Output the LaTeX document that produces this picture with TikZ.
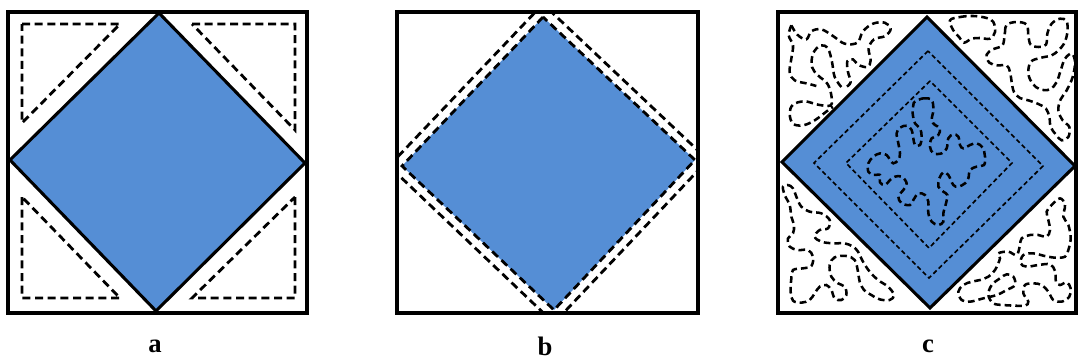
\documentclass[tikz,border=0pt]{standalone}
\usepackage{fontspec}
\setmainfont{Liberation Serif}
\usepackage{xcolor}
\usepackage{tikz}
\usetikzlibrary{calc}
\definecolor{colorTile}{RGB}{85,142,213}

\begin{document}
\begin{tikzpicture}[x=0.75pt,y=-0.75pt,
  frame/.style={line width=2.4pt,line join=miter},
  edge/.style={line width=2.3pt,line join=miter},
  cut/.style={line width=2.1pt,dash pattern=on 6pt off 3.5pt},
  fine/.style={line width=1.25pt,dash pattern=on 3.4pt off 2.2pt},
  blob/.style={line width=1.9pt,dash pattern=on 5pt off 3pt},
  lab/.style={font=\fontsize{20}{24}\selectfont\bfseries}]
  \useasboundingbox (0,0) rectangle (1078,362);

  % a: diamond with four triangle cuts
  \draw[edge,fill=colorTile] (159,13) -- (10,160) -- (156,311) -- (305,163) -- cycle;
  \draw[cut] (22,24) -- (120,24) -- (22,123) -- cycle;
  \draw[cut] (192,24) -- (295,24) -- (295,130) -- cycle;
  \draw[cut] (22,197) -- (22,298) -- (120,298) -- cycle;
  \draw[cut] (295,197) -- (295,298) -- (192,298) -- cycle;
  \draw[frame] (8,12) rectangle (307,313);
  \node[lab] (la) at (155,346) {a};

  % b: diamond with offset outline
  \fill[colorTile] (543,17) -- (402,166) -- (554,310) -- (695,160) -- cycle;
  \draw[cut] (543,17) -- (402,166) -- (554,310) -- (695,160) -- cycle;
  \begin{scope}
    \clip (398,13) rectangle (697,312);
    \draw[cut] (543,4) -- (389,166) -- (554,323) -- (708,160) -- cycle;
  \end{scope}
  \draw[frame] (397,12) rectangle (698,313);
  \node[lab] (lb) at (545,346) {b};

  % c: diamond with nested outlines and free-form cuts
  \draw[edge,fill=colorTile] (927,17) -- (782,162) -- (930,308) -- (1075,166) -- cycle;
  \draw[fine] (928,51) -- (814,163) -- (929,278) -- (1043,166) -- cycle;
  \draw[fine] (930,81) -- (846,163) -- (929,248) -- (1012,163) -- cycle;
  % top left corner
  \begin{scope}[shift={(778,12)},scale=1/3]
    \draw[blob] plot[smooth,tension=0.6] coordinates {(40,40) (58,68) (85,82) (100,58) (130,52) (165,72) (200,95) (238,92) (255,58) (285,35) (320,32) (338,50) (322,72) (288,82) (272,110) (278,145) (268,165) (240,158) (225,142) (208,148) (210,180) (218,210) (205,225)};
    \draw[blob] plot[smooth,tension=0.6] coordinates {(190,225) (170,195) (162,150) (150,110) (128,100) (105,125) (102,165) (120,190) (148,215) (160,250) (158,280) (120,278) (80,268) (45,278) (35,305) (45,335) (75,340) (110,325) (150,295) (165,285)};
    \draw[blob] plot[smooth,tension=0.6] coordinates {(40,40) (32,70) (45,100) (40,140) (35,180) (50,205) (90,215) (115,222)};
  \end{scope}
  % top right corner
  \begin{scope}[shift={(940,12)},scale=1/3]
    \draw[blob] plot[smooth cycle,tension=0.6] coordinates {(30,25) (60,15) (100,12) (140,18) (160,30) (165,60) (150,80) (120,78) (95,80) (72,92) (58,76) (40,55)};
    \draw[blob] plot[smooth cycle,tension=0.6] coordinates {(190,95) (195,60) (200,38) (230,30) (260,38) (265,70) (272,98) (295,105) (318,98) (322,65) (335,35) (360,20) (380,28) (382,62) (372,95) (355,115) (335,130) (300,138) (272,150) (265,185) (278,215) (300,232) (330,232) (350,210) (362,175) (375,140) (395,125) (405,150) (398,195) (380,235) (362,262) (355,295) (368,325) (388,345) (385,375) (365,385) (348,368) (332,345) (328,315) (318,290) (295,276) (265,265) (240,258) (222,240) (215,210) (210,180) (200,160) (172,160) (148,152) (140,128) (158,112) (180,105)};
  \end{scope}
  % bottom left corner
  \begin{scope}[shift={(778,180)},scale=1/3]
    \draw[blob] plot[smooth cycle,tension=0.6] coordinates {(15,20) (30,15) (45,25) (55,50) (70,80) (95,95) (130,100) (155,120) (150,145) (125,150) (110,170) (130,185) (165,190) (200,190) (225,200) (240,215) (255,245) (275,275) (300,300) (330,320) (348,345) (335,360) (305,358) (280,345) (258,330) (245,305) (240,275) (230,240) (205,228) (170,232) (155,255) (160,290) (180,310) (200,320) (205,345) (190,360) (170,355) (160,330) (145,315) (125,320) (110,340) (95,360) (70,368) (45,362) (38,335) (40,295) (45,270) (75,265) (100,258) (105,230) (90,210) (60,210) (35,200) (30,175) (45,160) (48,135) (40,110) (35,75) (20,45)};
  \end{scope}
  % bottom right corner
  \begin{scope}[shift={(950,185)},scale=1/3]
    \draw[blob] plot[smooth cycle,tension=0.6] coordinates {(330,40) (345,60) (340,95) (355,120) (362,160) (355,195) (345,215) (315,218) (280,212) (250,205) (220,210) (212,235) (230,245) (265,240) (300,238) (315,258) (318,290) (330,300) (350,292) (362,310) (358,335) (335,350) (310,345) (295,320) (275,300) (250,295) (225,300) (220,325) (235,350) (225,362) (195,362) (160,360) (130,355) (115,330) (125,300) (150,280) (170,268) (190,275) (195,300) (170,315) (140,330) (100,340) (60,350) (35,345) (25,320) (40,300) (65,290) (90,285) (115,275) (135,255) (150,220) (145,205) (175,200) (200,210) (210,180) (215,160) (240,150) (265,150) (290,155) (300,135) (295,105) (290,80) (305,60)};
  \end{scope}
  % centre
  \begin{scope}[shift={(860,95)},scale=1/3]
    \draw[blob] plot[smooth cycle,tension=0.6] coordinates {(165,20) (190,10) (215,15) (220,45) (215,75) (225,90) (240,100) (235,120) (215,130) (210,155) (220,175) (245,175) (260,160) (265,130) (280,118) (295,125) (300,150) (310,160) (330,150) (350,145) (368,158) (375,185) (372,210) (350,215) (330,225) (325,250) (315,265) (295,275) (280,270) (265,240) (250,232) (238,250) (235,275) (250,290) (262,300) (258,325) (250,355) (250,380) (235,390) (215,380) (205,355) (205,320) (195,300) (175,295) (160,315) (150,330) (125,325) (115,305) (130,285) (140,265) (125,245) (105,245) (90,255) (75,270) (60,262) (60,240) (40,240) (25,230) (25,205) (40,185) (60,175) (80,180) (90,195) (100,205) (115,195) (120,175) (115,145) (110,115) (120,98) (140,92) (155,105) (160,130) (165,150) (180,150) (185,125) (180,100) (165,85) (158,55) (160,30)};
  \end{scope}
  \draw[frame] (778,12) rectangle (1076,313);
  \node[lab] (lc) at (928,346) {c};
\end{tikzpicture}
\end{document}
